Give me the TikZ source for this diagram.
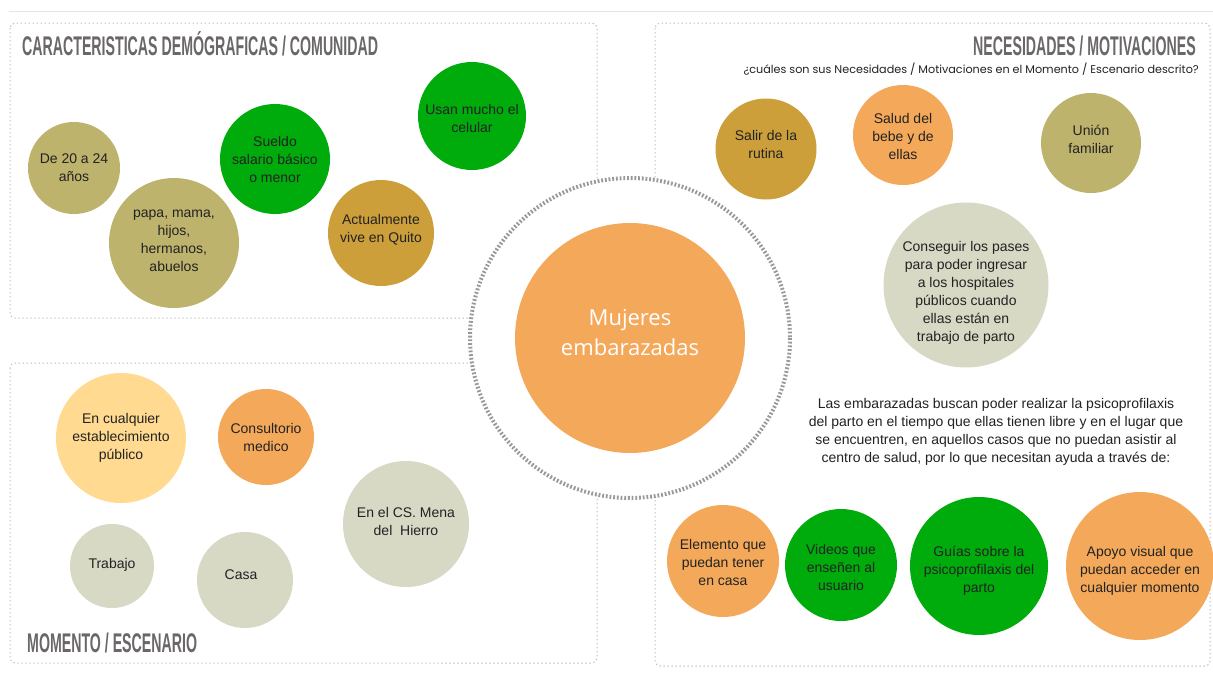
\documentclass[tikz,border=0pt]{standalone}
\usepackage{fontspec}
\setmainfont{Liberation Sans}
\newfontfamily\centerfont{Open Sans}
\newfontfamily\titlefont[FakeStretch=0.525]{Liberation Sans}
\newfontfamily\subfont{Poppins}
\definecolor{olive}{HTML}{BDB36C}
\definecolor{grn}{HTML}{00AB0C}
\definecolor{gold}{HTML}{CC9F3B}
\definecolor{orng}{HTML}{F4A95A}
\definecolor{lyel}{HTML}{FFDA90}
\definecolor{sage}{HTML}{D7D9C5}
\definecolor{txt}{HTML}{222222}
\definecolor{ttl}{HTML}{6B6767}
\definecolor{panelc}{HTML}{BDBDBD}
\definecolor{ringc}{HTML}{999999}
\tikzset{
  bub/.style={circle, inner sep=0pt, outer sep=0pt, draw=none},
  btxt/.style={inner sep=0pt, align=center, text=txt, font=\fontsize{14}{18}\selectfont},
  panel/.style={draw=panelc, line width=1pt, dash pattern=on 1.4pt off 2.6pt, rounded corners=5pt},
  ttlstyle/.style={text=ttl, inner sep=0pt, font=\titlefont\bfseries\fontsize{27}{27}\selectfont},
}
\begin{document}
\begin{tikzpicture}[x=1pt,y=-1pt]
\useasboundingbox (0,0) rectangle (1213,680);
\fill[white] (0,0) rectangle (1213,680);
% top rule
\draw[color=black!10, line width=1pt] (9,11) -- (1213,11);
% panels
\draw[panel] (10,23) rectangle (597,318);
\draw[panel] (10,363) rectangle (597,663);
\draw[panel] (655,23) rectangle (1210,666);
% centre ring
\coordinate (c) at (630,338);
\fill[white] (c) circle[radius=160];
\draw[color=ringc, line width=4pt, dash pattern=on 1.8pt off 1.9pt] (c) circle[radius=160];
\node[bub, fill=orng, minimum size=230pt] (center) at (c) {};
\node[inner sep=0pt, align=center, text=white, font=\centerfont\fontsize{22}{30}\selectfont]
  (centert) at ([yshift=5pt]center.center) {Mujeres\\embarazadas};
% titles
\node[ttlstyle, anchor=base west] (t1) at (22,55) {CARACTERISTICAS DEMÓGRAFICAS / COMUNIDAD};
\node[ttlstyle, anchor=base east] (t2) at (1196,55) {NECESIDADES / MOTIVACIONES};
\node[ttlstyle, anchor=base west] (t3) at (27,652) {MOMENTO / ESCENARIO};
\node[anchor=base east, inner sep=0pt, text=txt, font=\subfont\fontsize{11.2}{13}\selectfont] (sub) at (1199,73)
  {¿cuáles son sus Necesidades / Motivaciones en el Momento / Escenario descrito?};
% top-left
\node[bub, fill=olive, minimum size=92pt] (a1) at (74,168) {};
\node[btxt] (a1t) at (a1.center) {De 20 a 24\\años};
\node[bub, fill=olive, minimum size=130pt] (a2) at (174,243) {};
\node[btxt] (a2t) at ([yshift=2pt]a2.center) {papa, mama,\\hijos,\\hermanos,\\abuelos};
\node[bub, fill=grn, minimum size=110pt] (a3) at (275,159) {};
\node[btxt] (a3t) at (a3.center) {Sueldo\\salario básico\\o menor};
\node[bub, fill=gold, minimum size=106pt] (a4) at (381,233) {};
\node[btxt] (a4t) at ([yshift=3pt]a4.center) {Actualmente\\vive en Quito};
\node[bub, fill=grn, minimum size=108pt] (a5) at (472,116) {};
\node[btxt] (a5t) at ([yshift=-2pt]a5.center) {Usan mucho el\\celular};
% top-right
\node[bub, fill=gold, minimum size=101pt] (b1) at (766,149) {};
\node[btxt] (b1t) at ([yshift=5pt]b1.center) {Salir de la\\rutina};
\node[bub, fill=orng, minimum size=100pt] (b2) at (903,135) {};
\node[btxt] (b2t) at ([yshift=-1pt]b2.center) {Salud del\\bebe y de\\ellas};
\node[bub, fill=olive, minimum size=100pt] (b3) at (1091,143) {};
\node[btxt] (b3t) at ([yshift=4pt]b3.center) {Unión\\familiar};
\node[bub, fill=sage, minimum size=165pt] (b4) at (966,285) {};
\node[btxt] (b4t) at ([yshift=-8pt]b4.center) {Conseguir los pases\\para poder ingresar\\a los hospitales\\públicos cuando\\ellas están en\\trabajo de parto};
\node[btxt] (para) at (996,432)
  {Las embarazadas buscan poder realizar la psicoprofilaxis\\del parto en el tiempo que ellas tienen libre y en el lugar que\\se encuentren, en aquellos casos que no puedan asistir al\\centro de salud, por lo que necesitan ayuda a través de:};
% bottom-right
\node[bub, fill=orng, minimum size=112pt] (d1) at (723,561) {};
\node[btxt] (d1t) at ([yshift=-1pt]d1.center) {Elemento que\\puedan tener\\en casa};
\node[bub, fill=grn, minimum size=112pt] (d2) at (841,565) {};
\node[btxt] (d2t) at ([yshift=-2pt]d2.center) {Videos que\\enseñen al\\usuario};
\node[bub, fill=grn, minimum size=138pt] (d3) at (979,566) {};
\node[btxt] (d3t) at ([yshift=-5pt]d3.center) {Guías sobre la\\psicoprofilaxis del\\parto};
\node[bub, fill=orng, minimum size=148pt] (d4) at (1140,566) {};
\node[btxt] (d4t) at ([yshift=-5pt]d4.center) {Apoyo visual que\\puedan acceder en\\cualquier momento};
% bottom-left
\node[bub, fill=lyel, minimum size=130pt] (e1) at (121,438) {};
\node[btxt] (e1t) at (e1.center) {En cualquier\\establecimiento\\público};
\node[bub, fill=orng, minimum size=96pt] (e2) at (266,437) {};
\node[btxt] (e2t) at (e2.center) {Consultorio\\medico};
\node[bub, fill=sage, minimum size=126pt] (e3) at (406,524) {};
\node[btxt] (e3t) at ([yshift=3pt]e3.center) {En el CS. Mena\\del\ \ Hierro};
\node[bub, fill=sage, minimum size=84pt] (e4) at (112,566) {};
\node[btxt] (e4t) at ([yshift=1pt]e4.center) {Trabajo};
\node[bub, fill=sage, minimum size=96pt] (e5) at (245,580) {};
\node[btxt] (e5t) at ([xshift=-4pt,yshift=5pt]e5.center) {Casa};
\end{tikzpicture}
\end{document}
